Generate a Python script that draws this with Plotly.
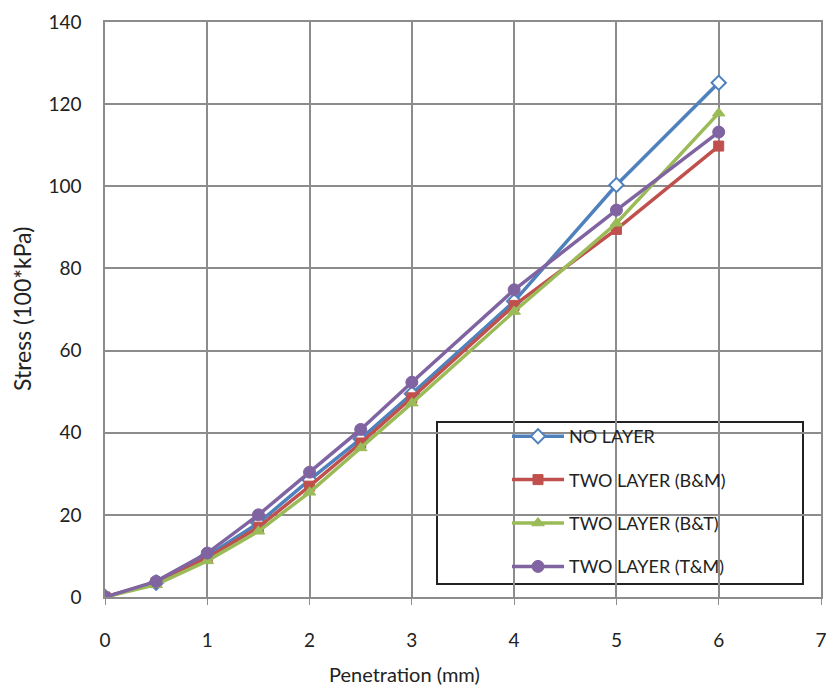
import plotly.graph_objects as go

penetration = [0, 0.5, 1, 1.5, 2, 2.5, 3, 4, 5, 6]
no_layer = [0, 3.5, 10, 18, 28.5, 38.5, 49.5, 72, 100.3, 125.2]
two_bm = [0, 3.5, 9.5, 17, 27, 37.5, 48.5, 71, 89.5, 109.8]
two_bt = [0, 3, 8.8, 16, 25.5, 36.3, 47.2, 69.5, 91, 117.8]
two_tm = [0, 3.8, 10.7, 20, 30.4, 40.8, 52.3, 74.8, 94.2, 113.2]
series_names = ["NO LAYER", "TWO LAYER (B&M)", "TWO LAYER (B&T)", "TWO LAYER (T&M)"]
x_ticks = [0, 1, 2, 3, 4, 5, 6, 7]
y_ticks = [0, 20, 40, 60, 80, 100, 120, 140]
x_title = "Penetration (mm)"
y_title = "Stress (100*kPa)"

styles = [
    dict(color="#4F81BD", symbol="diamond", fill="white", size=11),
    dict(color="#C0504D", symbol="square", fill="#C0504D", size=10),
    dict(color="#9BBB59", symbol="triangle-up", fill="#9BBB59", size=11),
    dict(color="#8064A2", symbol="circle", fill="#8064A2", size=12),
]

fig = go.Figure()
for i, (name, ys) in enumerate(zip(series_names, [no_layer, two_bm, two_bt, two_tm])):
    s = styles[i]
    fig.add_trace(go.Scatter(
        x=penetration, y=ys, name=name, mode="lines+markers",
        legendgroup=f"g{i}",
        line=dict(color=s["color"], width=3.5),
        marker=dict(symbol=s["symbol"], size=s["size"], color=s["fill"],
                    line=dict(color=s["color"], width=2 if i == 0 else 1)),
    ))

font_family = "Lato, Open Sans, sans-serif"
FW, FH = 828, 692
# plot area in page pixels
L, R, T, B = 105, 821, 22, 597
W, H = R - L, B - T


def px(xp):
    return (xp - L) / W


def py(yp):
    return (B - yp) / H


fig.update_layout(
    width=FW, height=FH,
    margin=dict(l=L, r=FW - R, t=T, b=FH - B, autoexpand=False),
    paper_bgcolor="white", plot_bgcolor="white",
    font=dict(family=font_family, color="#222222"),
    showlegend=True,
    legend=dict(
        x=px(507), y=py(418),
        xanchor="left", yanchor="top",
        bgcolor="rgba(0,0,0,0)", borderwidth=0,
        font=dict(size=18, family=font_family, color="#222222"),
        tracegroupgap=17, itemwidth=52,
    ),
    shapes=[dict(
        type="rect", xref="paper", yref="paper",
        x0=px(437), x1=px(803), y0=py(584), y1=py(422),
        line=dict(color="#222222", width=2), fillcolor="white", layer="below",
    )],
    annotations=[
        dict(text=x_title, xref="paper", yref="paper", x=px(404), y=py(674),
             xanchor="center", yanchor="middle", showarrow=False,
             font=dict(size=20, family=font_family, color="#222222")),
        dict(text=y_title, xref="paper", yref="paper", x=px(22), y=py(309),
             xanchor="center", yanchor="middle", showarrow=False, textangle=-90,
             font=dict(size=23, family=font_family, color="#222222")),
    ],
)

fig.update_xaxes(
    range=[0, 7], tickvals=x_ticks, ticktext=[str(v) for v in x_ticks],
    showgrid=True, gridcolor="#8C8C8C", gridwidth=1.5,
    showline=True, linecolor="#8C8C8C", linewidth=1.5, mirror=True,
    ticks="outside", ticklen=6, tickcolor="#8C8C8C",
    tickfont=dict(size=19), zeroline=False, automargin=False,
    ticklabelstandoff=19, ticklabeloverflow="allow",
)
fig.update_yaxes(
    range=[0, 140], tickvals=y_ticks, ticktext=[str(v) for v in y_ticks],
    showgrid=True, gridcolor="#8C8C8C", gridwidth=1.5,
    showline=True, linecolor="#8C8C8C", linewidth=1.5, mirror=True,
    ticks="", tickfont=dict(size=19), zeroline=False, automargin=False,
    ticklabelstandoff=18,
)

fig.write_html(
    "out.html",
    config={"displayModeBar": False},
    post_script="document.body.style.margin='0';document.body.style.overflow='hidden';",
)
